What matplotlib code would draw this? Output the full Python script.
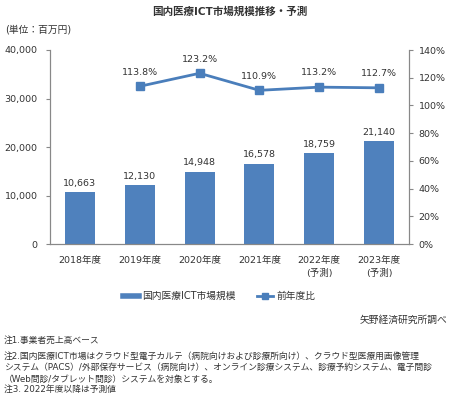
import matplotlib
matplotlib.use("Agg")
import matplotlib.pyplot as plt
from matplotlib.lines import Line2D

plt.rcParams['font.family'] = ['DejaVu Sans', 'Noto Sans CJK JP']

categories = ["2018年度", "2019年度", "2020年度", "2021年度", "2022年度\n(予測)", "2023年度\n(予測)"]
market = [10663, 12130, 14948, 16578, 18759, 21140]
growth_idx = [1, 2, 3, 4, 5]
growth = [113.8, 123.2, 110.9, 113.2, 112.7]

title = "国内医療ICT市場規模推移・予測"
unit = "(単位：百万円)"
source = "矢野経済研究所調べ"
notes = [
    "注1.事業者売上高ベース",
    "注2.国内医療ICT市場はクラウド型電子カルテ（病院向けおよび診療所向け）、クラウド型医療用画像管理",
    "システム（PACS）/外部保存サービス（病院向け）、オンライン診療システム、診療予約システム、電子問診",
    "（Web問診/タブレット問診）システムを対象とする。",
    "注3. 2022年度以降は予測値",
]

bar_color = "#4F81BD"
line_color = "#4A7EBB"
axis_color = "#888888"
text_color = "#333333"

fig = plt.figure(figsize=(4.57, 3.99), dpi=100)
ax = fig.add_axes([50/457, 1-244/399, 359/457, (244-50)/399])
ax2 = ax.twinx()

x = list(range(len(categories)))
ax.bar(x, market, width=0.5, color=bar_color, zorder=2)
for xi, v in zip(x, market):
    ax.annotate(f"{v:,}", (xi, v), xytext=(0, 3), textcoords="offset points",
                ha="center", va="bottom", fontsize=6.8, color=text_color)

ax.set_xlim(-0.5, len(categories)-0.5)
ax.set_ylim(0, 40000)
ax.set_yticks([0, 10000, 20000, 30000, 40000])
ax.set_yticklabels([f"{t:,}" for t in [0, 10000, 20000, 30000, 40000]])
ax.set_xticks(x)
ax.set_xticklabels(categories, linespacing=1.45)
ax.tick_params(axis='x', length=0, pad=9, labelsize=6.8, colors=text_color)
ax.tick_params(axis='y', length=3, width=0.8, color=axis_color, labelsize=6.8, labelcolor=text_color, pad=6)

ax2.plot(growth_idx, growth, color=line_color, lw=2, marker='s', markersize=5.5, zorder=3)
for xi, v in zip(growth_idx, growth):
    ax2.annotate(f"{v:.1f}%", (xi, v), xytext=(0, 7), textcoords="offset points",
                 ha="center", va="bottom", fontsize=6.8, color=text_color)
ax2.set_ylim(0, 140)
ax2.set_yticks(range(0, 141, 20))
ax2.set_yticklabels([f"{t}%" for t in range(0, 141, 20)])
ax2.tick_params(axis='y', length=3, width=0.8, color=axis_color, labelsize=6.8, labelcolor=text_color, pad=4)

for a in (ax, ax2):
    a.spines['top'].set_visible(False)
    for s in ('left', 'right', 'bottom'):
        a.spines[s].set_color(axis_color)
        a.spines[s].set_linewidth(0.8)

fig.text(230/457, 1-12/399, title, ha="center", va="center", fontsize=7.6, fontweight="semibold", color=text_color)
fig.text(5/457, 1-30/399, unit, ha="left", va="center", fontsize=7, color=text_color)

handles = [Line2D([], [], color=bar_color, lw=4),
           Line2D([], [], color=line_color, lw=2, marker='s', markersize=5)]
fig.legend(handles, ["国内医療ICT市場規模", "前年度比"], loc="center",
           bbox_to_anchor=(219/457, 1-296/399), ncol=2, frameon=False, fontsize=7,
           handlelength=1.7, columnspacing=2.2, handletextpad=0.3, labelcolor=text_color)

fig.text(447/457, 1-320/399, source, ha="right", va="center", fontsize=7, color=text_color)
note_y = [340, 356, 367, 379, 389]
for t, yy in zip(notes, note_y):
    fig.text(4/457, 1-yy/399, t, ha="left", va="center", fontsize=6.35, color=text_color)

fig.savefig("out.png", dpi=100, facecolor="white")
